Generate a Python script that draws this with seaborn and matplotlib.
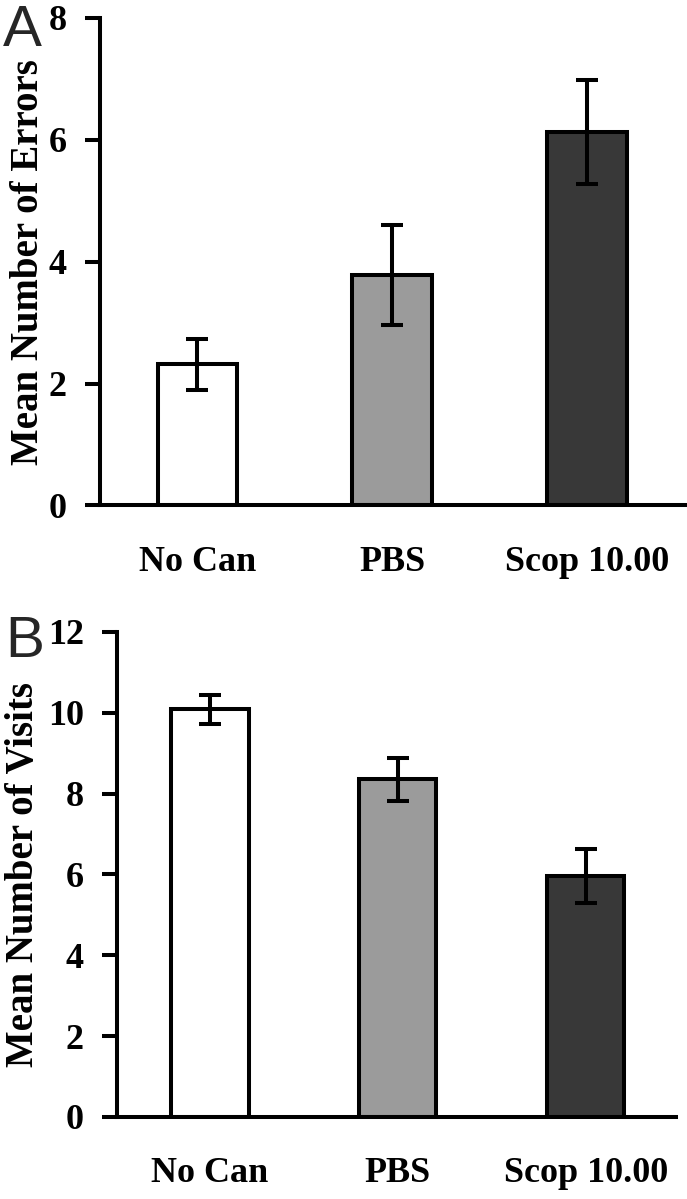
import numpy as np
import pandas as pd
import seaborn as sns
import matplotlib.pyplot as plt

groups = ["No Can", "PBS", "Scop 10.00"]
bar_colors = ["#ffffff", "#9b9b9b", "#383838"]

# panel A: mean number of errors
errors_mean = [2.32, 3.78, 6.13]
errors_sem = [0.42, 0.82, 0.85]
errors_ticks = [0, 2, 4, 6, 8]

# panel B: mean number of visits
visits_mean = [10.09, 8.36, 5.97]
visits_sem = [0.36, 0.53, 0.67]
visits_ticks = [0, 2, 4, 6, 8, 10, 12]

sns.set_theme(style="ticks")
plt.rcParams["font.family"] = ["Liberation Serif", "DejaVu Serif"]
plt.rcParams["font.weight"] = "bold"

lw = 2.9

fig = plt.figure(figsize=(6.87, 11.99), dpi=100)
ax_a = fig.add_axes([0.1456, 0.5784, 0.854, 0.4066])
ax_b = fig.add_axes([0.1703, 0.0684, 0.8137, 0.4045])


def draw_panel(ax, means, sems, ticks, ylabel, xlim, label_x):
    df = pd.DataFrame({"group": groups, "value": means})
    sns.barplot(data=df, x="group", y="value", hue="group", palette=bar_colors,
                legend=False, width=0.41, saturation=1, edgecolor="black",
                linewidth=lw, ax=ax)
    ax.errorbar(np.arange(len(groups)), means, yerr=sems, fmt="none",
                ecolor="black", elinewidth=lw, capsize=8, capthick=lw, zorder=5)
    ax.set_xlim(*xlim)
    ax.set_ylim(ticks[0], ticks[-1])
    ax.set_yticks(ticks)
    ax.set_yticklabels([str(t) for t in ticks])
    sns.despine(ax=ax)
    for s in ["left", "bottom"]:
        ax.spines[s].set_linewidth(lw)
        ax.spines[s].set_color("black")
    ax.tick_params(axis="y", direction="out", length=11, width=lw, pad=13,
                   labelsize=26, colors="black")
    ax.tick_params(axis="x", length=0, pad=29, labelsize=26, colors="black")
    ax.set_xlabel("")
    ax.set_ylabel(ylabel, fontsize=28, fontweight="bold", color="black")
    ax.yaxis.set_label_coords(label_x, 0.5)


draw_panel(ax_a, errors_mean, errors_sem, errors_ticks,
           "Mean Number of Errors", (-0.5, 2.51), -0.09)
draw_panel(ax_b, visits_mean, visits_sem, visits_ticks,
           "Mean Number of Visits", (-0.495, 2.48), -0.135)

fig.text(3 / 687, 1 - 46 / 1199, "A", fontsize=42, fontweight="normal",
         family="Liberation Sans", va="baseline", ha="left")
fig.text(5 / 687, 1 - 657 / 1199, "B", fontsize=42, fontweight="normal",
         family="Liberation Sans", va="baseline", ha="left")

fig.savefig("out.png", dpi=100)
